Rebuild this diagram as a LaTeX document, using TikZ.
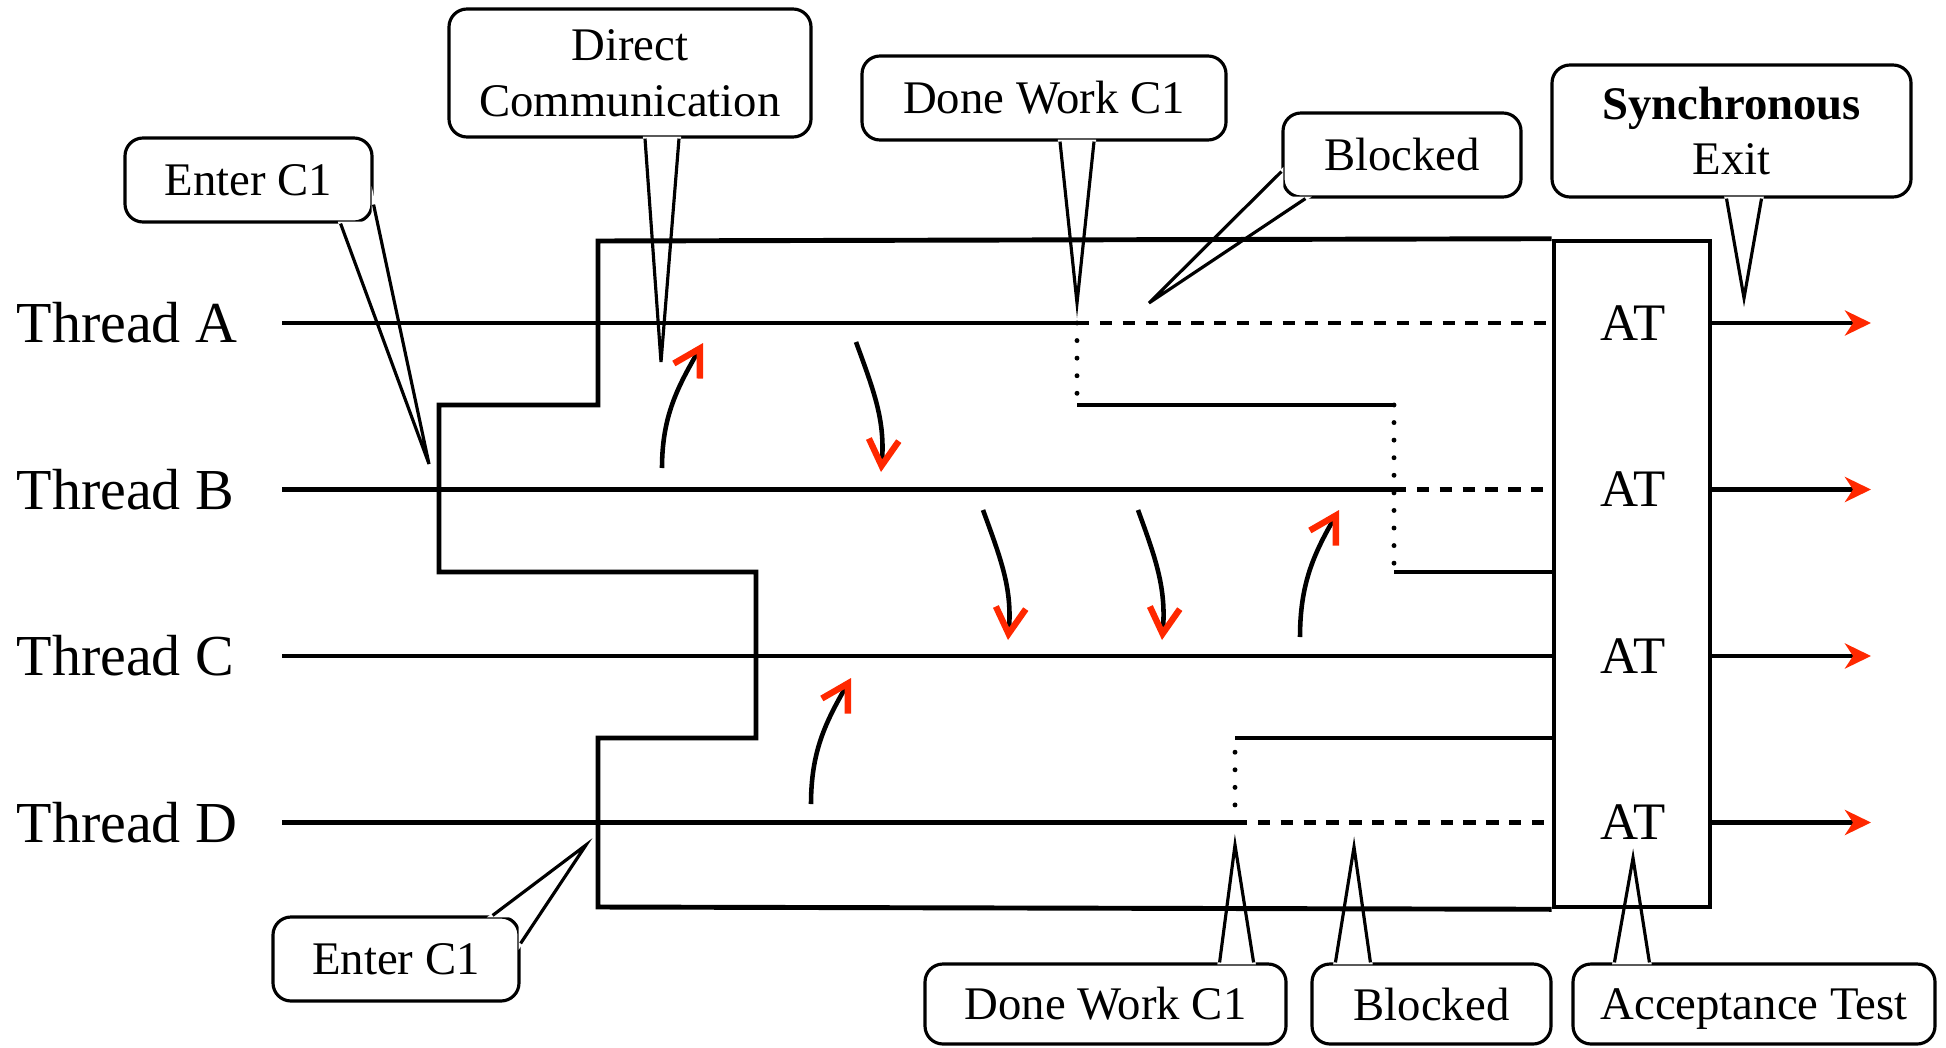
\documentclass[tikz,border=0pt]{standalone}
\usepackage{fontspec}
\setmainfont{Liberation Serif}
\usetikzlibrary{arrows.meta,positioning,calc}
\definecolor{signalred}{RGB}{255,40,0}

\begin{document}
\begin{tikzpicture}[
    track/.style={line width=1.4pt},
    waiting/.style={line width=1.4pt, dash pattern=on 3.5pt off 3pt},
    handoff/.style={line width=1.4pt, dash pattern=on 0pt off 5pt, line cap=round},
    exit arrow/.style={line width=1.4pt, -{Stealth[color=signalred, length=2.6mm, width=2.5mm, inset=0.8mm]}},
    message/.style={line width=1.3pt, -{Straight Barb[color=signalred, length=2.6mm, width=3mm, line width=1.8pt]}},
    thread label/.style={anchor=west, inner sep=0pt, font=\fontsize{16.5}{19}\selectfont},
    test label/.style={inner sep=0pt, font=\fontsize{15}{18}\selectfont},
    bubble/.style={draw, line width=0.9pt, rounded corners=1.8mm, fill=white, align=center, inner sep=0pt, font=\fontsize{13.3}{15.9}\selectfont},
    bubble tail/.style={line width=0.9pt}
]
    \useasboundingbox (0,0) rectangle (19.46,10.47);

    % Callouts
    \node[bubble, minimum width=2.47cm, minimum height=0.84cm] (enterB) at (2.485,8.67) {Enter C1};
    \node[bubble, minimum width=3.62cm, minimum height=1.28cm] (direct) at (6.30,9.74) {Direct\\Communication};
    \node[bubble, minimum width=3.64cm, minimum height=0.84cm] (doneA) at (10.44,9.49) {Done Work C1};
    \node[bubble, minimum width=2.38cm, minimum height=0.84cm] (blockA) at (14.02,8.92) {Blocked};
    \node[bubble, minimum width=3.59cm, minimum height=1.32cm] (sync) at (17.315,9.16) {\textbf{Synchronous}\\Exit};
    \node[bubble, minimum width=2.46cm, minimum height=0.84cm] (enterD) at (3.96,0.88) {Enter C1};
    \node[bubble, minimum width=3.61cm, minimum height=0.80cm] (doneD) at (11.055,0.43) {Done Work C1};
    \node[bubble, minimum width=2.39cm, minimum height=0.80cm] (blockD) at (14.315,0.43) {Blocked};
    \node[bubble, minimum width=3.62cm, minimum height=0.80cm, text depth=0pt] (accept) at (17.54,0.43) {Acceptance Test};

    % Callout pointers
    \foreach \n/\a/\p/\q/\c/\t in {
        enterB/south east/{-3.3mm,0}/{0,1.9mm}/{0,0}/{4.29,5.83},
        direct/south/{1.5mm,0}/{4.9mm,0}/{1.5mm,0}/{6.61,6.85},
        doneA/south/{1.6mm,0}/{5mm,0}/{1.6mm,0}/{10.77,7.44},
        blockA/south west/{0,2.7mm}/{2.4mm,0}/{0,0}/{11.49,7.44},
        sync/south/{-0.5mm,0}/{3mm,0}/{-0.5mm,0}/{17.44,7.49},
        enterD/north east/{-2.8mm,0}/{0,-2.8mm}/{0,0}/{5.86,2.02},
        doneD/north east/{-6.8mm,0}/{-3.4mm,0}/{-6.8mm,0}/{12.35,2.02},
        blockD/north west/{2.5mm,0}/{6mm,0}/{2.5mm,0}/{13.54,2.00},
        accept/north west/{4.3mm,0}/{7.8mm,0}/{4.3mm,0}/{16.33,1.89}} {
        \coordinate (\n-tip) at (\t);
        \coordinate (\n-p) at ($(\n.\a)+(\p)$);
        \coordinate (\n-q) at ($(\n.\a)+(\q)$);
        \coordinate (\n-c) at ($(\n.\a)+(\c)$);
        \filldraw[white, line width=1.1pt] (\n-p) -- (\n-tip) -- (\n-q) -- (\n-c) -- cycle;
        \draw[bubble tail] (\n-p) -- (\n-tip) -- (\n-q);
    }

    % Threads
    \foreach \t/\y in {A/7.24, B/5.575, C/3.91, D/2.245} {
        \node[thread label] (lbl\t) at (0.16,\y) {Thread \t};
        \node[test label] (at\t) at (16.33,\y) {AT};
        \coordinate (start\t) at (2.82,\y);
        \coordinate (end\t) at (18.71,\y);
    }

    % Acceptance test column
    \node[draw, line width=1.3pt, minimum width=1.56cm, minimum height=6.66cm, inner sep=0pt] (atbox) at (16.32,4.73) {};

    \coordinate (splitA) at (10.77,7.24);
    \coordinate (splitB) at (13.94,5.575);
    \coordinate (splitD) at (12.35,2.245);
    \coordinate (a1) at (10.77,6.42);
    \coordinate (a2) at (13.94,6.42);
    \coordinate (a3) at (13.94,4.75);
    \coordinate (d1) at (12.35,3.09);

    \draw[track] (startA) -- (splitA);
    \draw[waiting] (splitA) -- (atbox.west |- startA);
    \draw[track] (startB) -- (splitB);
    \draw[waiting] (splitB) -- (atbox.west |- startB);
    \draw[track] (startC) -- (atbox.west |- startC);
    \draw[track] (startD) -- (splitD);
    \draw[waiting] (splitD) -- (atbox.west |- startD);

    \foreach \t in {A,B,C,D} {
        \draw[exit arrow] (atbox.east |- start\t) -- (end\t);
    }

    % Region of C1
    \draw[track] (atbox.north west) -- (5.98,8.06) -- (5.98,6.42) -- (4.39,6.42) -- (4.39,4.75)
        -- (7.56,4.75) -- (7.56,3.09) -- (5.98,3.09) -- (5.98,1.40) -- (atbox.south west);

    % Threads done early
    \draw[handoff] (splitA) -- (a1);
    \draw[track] (a1) -- (a2);
    \draw[handoff] (a2) -- (a3);
    \draw[track] (a3) -- (atbox.west |- a3);
    \draw[handoff] (splitD) -- (d1);
    \draw[track] (d1) -- (atbox.west |- d1);

    % Messages
    \foreach \i/\s/\e/\o/\n in {
        1/{6.62,5.79}/{7.03,7.04}/90/240,
        2/{8.56,7.05}/{8.81,5.75}/-70/85,
        3/{9.83,5.37}/{10.08,4.07}/-70/85,
        4/{11.38,5.37}/{11.62,4.07}/-70/85,
        5/{13.00,4.10}/{13.39,5.37}/90/240,
        6/{8.11,2.43}/{8.51,3.69}/90/240} {
        \coordinate (m\i s) at (\s);
        \coordinate (m\i e) at (\e);
        \draw[message] (m\i s) to[out=\o, in=\n] (m\i e);
    }
\end{tikzpicture}
\end{document}
